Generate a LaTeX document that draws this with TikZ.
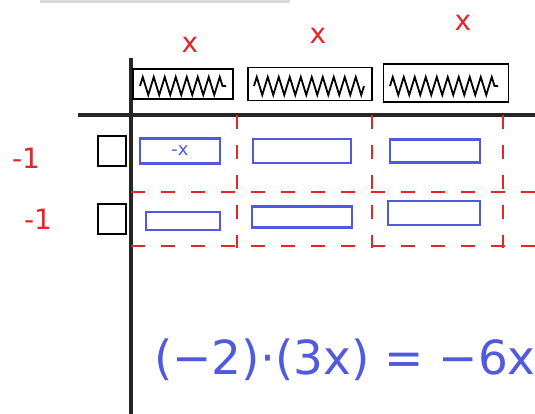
\documentclass[tikz,border=0pt]{standalone}
\usepackage{fontspec}
\setmainfont{DejaVu Sans}
\usetikzlibrary{decorations.pathmorphing}
\definecolor{tileblue}{RGB}{80,90,220}
\definecolor{penred}{RGB}{225,40,40}
\tikzset{
  axis/.style={line width=3.2pt, black!85},
  blacktile/.style={draw=black, line width=1.8pt, minimum height=30pt, inner sep=0pt},
  hatch/.style={line width=1.8pt, decorate, decoration={zigzag, segment length=11pt, amplitude=9pt}},
  unittile/.style={draw=black, line width=2.2pt, minimum width=28pt, minimum height=30pt, inner sep=0pt},
  bluetile/.style={draw=tileblue, line width=2.2pt, inner sep=0pt},
  reddash/.style={draw=penred, line width=1.8pt, dash pattern=on 14pt off 16pt},
  redtext/.style={text=penred, font=\fontsize{28}{28}\selectfont},
}
\begin{document}
\begin{tikzpicture}[x=1pt, y=-1pt]
\useasboundingbox (0,0) rectangle (535,414);
% faint partial line at top
\draw[black!15, line width=3pt] (40,2) -- (290,2);
% axes
\coordinate (vtop) at (131,58);
\coordinate (vbot) at (131,414);
\coordinate (hl) at (78,115);
\coordinate (hr) at (535,115);
\draw[axis] (vtop) -- (vbot);
\draw[axis] (hl) -- (hr);
% top x tiles (hatched)
\node[blacktile, minimum width=100pt] (t1) at (183,84) {};
\node[blacktile, minimum width=124pt, minimum height=33pt] (t2) at (310,84) {};
\node[blacktile, minimum width=125pt, minimum height=38pt] (t3) at (446,83) {};
\draw[hatch] (140,86) -- (226,86);
\draw[hatch] (254,86) -- (364,86);
\draw[hatch] (390,86) -- (498,86);
% red x labels
\node[redtext] (x1) at (190,45) {x};
\node[redtext] (x2) at (318,36) {x};
\node[redtext] (x3) at (463,23) {x};
% unit tiles
\node[unittile] (u1) at (112,151) {};
\node[unittile] (u2) at (112,219) {};
% red -1 labels
\node[redtext] (m1) at (26,158) {-1};
\node[redtext] (m2) at (38,219) {-1};
% red dashed grid
\coordinate (d1t) at (237,115); \coordinate (d1b) at (237,248);
\coordinate (d2t) at (372,115); \coordinate (d2b) at (372,248);
\coordinate (d3t) at (503,115); \coordinate (d3b) at (503,248);
\coordinate (h1l) at (131,192); \coordinate (h1r) at (535,192);
\coordinate (h2l) at (131,246); \coordinate (h2r) at (535,246);
\draw[reddash] (d1t) -- (d1b);
\draw[reddash] (d2t) -- (d2b);
\draw[reddash] (d3t) -- (d3b);
\draw[reddash] (h1l) -- (h1r);
\draw[reddash] (h2l) -- (h2r);
% blue -x tiles
\node[bluetile, minimum width=80pt, minimum height=25pt] (b11) at (180,151) {\color{tileblue}\fontsize{18}{18}\selectfont -x};
\node[bluetile, minimum width=98pt, minimum height=24pt] (b12) at (302,151) {};
\node[bluetile, minimum width=90pt, minimum height=23pt] (b13) at (435,151) {};
\node[bluetile, minimum width=74pt, minimum height=18pt] (b21) at (183,221) {};
\node[bluetile, minimum width=100pt, minimum height=21pt] (b22) at (302,217) {};
\node[bluetile, minimum width=92pt, minimum height=24pt] (b23) at (434,213) {};
% equation
\node[text=tileblue, font=\fontsize{47}{47}\selectfont] (eq) at (345,360) {(−2)·(3x) = −6x};
\end{tikzpicture}
\end{document}
